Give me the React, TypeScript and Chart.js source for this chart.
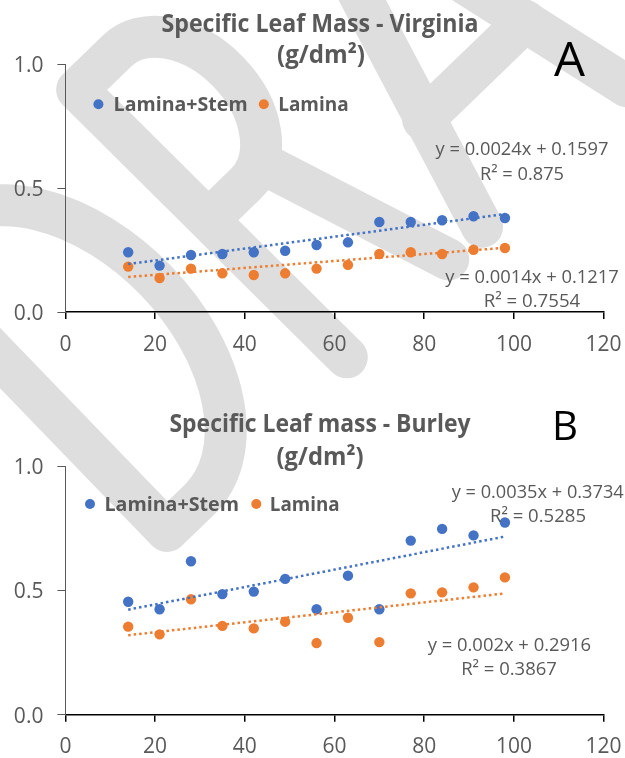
import { useEffect, useRef } from 'react';
import { Chart, registerables } from 'chart.js';

Chart.register(...registerables);

// ---------- data ----------
const days = [14, 21, 28, 35, 42, 49, 56, 63, 70, 77, 84, 91, 98];

const virginiaLaminaStem = [0.241, 0.187, 0.23, 0.234, 0.241, 0.247, 0.27, 0.281, 0.363, 0.363, 0.37, 0.386, 0.379];
const virginiaLamina = [0.183, 0.137, 0.175, 0.156, 0.149, 0.156, 0.175, 0.19, 0.234, 0.241, 0.234, 0.251, 0.258];

const burleyLaminaStem = [0.454, 0.424, 0.617, 0.485, 0.495, 0.546, 0.424, 0.559, 0.424, 0.7, 0.747, 0.721, 0.773];
const burleyLamina = [0.354, 0.323, 0.464, 0.357, 0.347, 0.374, 0.288, 0.39, 0.292, 0.488, 0.492, 0.512, 0.552];

// trendline [slope, intercept, R²]
const virginiaTrendLaminaStem = [0.0024, 0.1597, 0.875];
const virginiaTrendLamina = [0.0014, 0.1217, 0.7554];
const burleyTrendLaminaStem = [0.0035, 0.3734, 0.5285];
const burleyTrendLamina = [0.002, 0.2916, 0.3867];

const seriesNames = ['Lamina+Stem', 'Lamina'];
const xAxisRange = [0, 120, 20];
const yAxisRange = [0, 1, 0.5];

// ---------- styles ----------
const BLUE = '#4472C4';
const ORANGE = '#ED7D31';
const GRAY_TEXT = '#595959';
const FONT = "'Open Sans'";
const W = 625;
const H = 379;

// [x, baseline, target width, font size]
type TextBox = [number, number, number, number];

type Layout = {
  offset: number;
  area: { left: number; right: number; top: number; bottom: number };
  title1: TextBox;
  title2: TextBox;
  letter: TextBox;
  legendY: number;
  dotLS: number;
  textLS: TextBox;
  dotL: number;
  textL: TextBox;
  eqLS: TextBox;
  r2LS: TextBox;
  eqL: TextBox;
  r2L: TextBox;
};

const panels = [
  {
    title: ['Specific Leaf Mass - Virginia', '(g/dm²)'],
    letter: 'A',
    laminaStem: virginiaLaminaStem,
    lamina: virginiaLamina,
    trendLS: virginiaTrendLaminaStem,
    trendL: virginiaTrendLamina,
    layout: {
      offset: 0,
      area: { left: 65.4, right: 603.6, top: 64, bottom: 312 },
      title1: [320, 32, 317, 24.5],
      title2: [321, 63, 88, 24.5],
      letter: [569.5, 76, 31, 47.6],
      legendY: 104.3,
      dotLS: 98.4,
      textLS: [113.6, 111, 134, 19.2],
      dotL: 263.8,
      textL: [278.2, 111, 70.5, 19.2],
      eqLS: [522, 155, 173, 18.6],
      r2LS: [522, 179.5, 84, 18.6],
      eqL: [532, 283, 173.5, 18.6],
      r2L: [532, 307, 96.5, 18.6],
    } as Layout,
  },
  {
    title: ['Specific Leaf mass - Burley', '(g/dm²)'],
    letter: 'B',
    laminaStem: burleyLaminaStem,
    lamina: burleyLamina,
    trendLS: burleyTrendLaminaStem,
    trendL: burleyTrendLamina,
    layout: {
      offset: 379,
      area: { left: 65.4, right: 603.6, top: 87, bottom: 335.7 },
      title1: [320, 53, 301, 24.5],
      title2: [320, 86, 87, 24.5],
      letter: [565, 61, 26, 39.6],
      legendY: 125,
      dotLS: 90,
      textLS: [104.4, 132, 134.6, 19.2],
      dotL: 256.3,
      textL: [269.8, 132, 69.8, 19.2],
      eqLS: [537.7, 118.5, 172, 18.6],
      r2LS: [538, 142.7, 96, 18.6],
      eqL: [509.4, 271.7, 163.4, 18.6],
      r2L: [509, 296, 95.7, 18.6],
    } as Layout,
  },
];

// ---------- helpers ----------
function drawText(
  ctx: CanvasRenderingContext2D,
  text: string,
  box: TextBox,
  weight: string,
  color: string,
  align: CanvasTextAlign
) {
  const [x, baseline, targetW, size] = box;
  ctx.save();
  ctx.font = `${weight} ${size}px ${FONT}`;
  const w = ctx.measureText(text).width;
  const sx = targetW / w;
  ctx.translate(x, baseline);
  ctx.scale(sx, 1);
  ctx.fillStyle = color;
  ctx.textAlign = align;
  ctx.textBaseline = 'alphabetic';
  ctx.fillText(text, 0, 0);
  ctx.restore();
}

function drawWatermark(ctx: CanvasRenderingContext2D, offset: number) {
  ctx.save();
  ctx.translate(0, -offset);
  ctx.translate(167, 531);
  ctx.rotate((-44 * Math.PI) / 180);
  ctx.strokeStyle = '#dedede';
  ctx.lineWidth = 42;
  ctx.lineCap = 'round';
  ctx.lineJoin = 'round';
  // D
  ctx.beginPath();
  ctx.moveTo(45, 0);
  ctx.lineTo(0, 0);
  ctx.lineTo(0, -376);
  ctx.lineTo(45, -376);
  ctx.ellipse(45, -188, 121, 188, 0, -Math.PI / 2, Math.PI / 2);
  ctx.stroke();
  // R
  ctx.beginPath();
  ctx.moveTo(250, 0);
  ctx.lineTo(242, -380);
  ctx.lineTo(298, -380);
  ctx.ellipse(298, -287.5, 65, 92.5, 0, -Math.PI / 2, Math.PI / 2);
  ctx.lineTo(246, -195);
  ctx.stroke();
  ctx.beginPath();
  ctx.moveTo(325, -195);
  ctx.lineTo(391, 0);
  ctx.stroke();
  // A
  ctx.beginPath();
  ctx.moveTo(438, 0);
  ctx.lineTo(548, -380);
  ctx.lineTo(640, 0);
  ctx.stroke();
  ctx.beginPath();
  ctx.moveTo(470, -118);
  ctx.lineTo(612, -118);
  ctx.stroke();
  ctx.restore();
}

function trendPoints(t: number[]) {
  const x0 = days[0];
  const x1 = days[days.length - 1];
  return [
    { x: x0, y: t[0] * x0 + t[1] },
    { x: x1, y: t[0] * x1 + t[1] },
  ];
}

function Panel({ panel }: { panel: (typeof panels)[number] }) {
  const ref = useRef<HTMLCanvasElement>(null);

  useEffect(() => {
    const L = panel.layout;
    const overlay = {
      id: 'overlay',
      beforeDraw(chart: Chart) {
        drawWatermark(chart.ctx, L.offset);
      },
      afterDraw(chart: Chart) {
        const ctx = chart.ctx;
        drawText(ctx, panel.title[0], L.title1, 'bold', GRAY_TEXT, 'center');
        drawText(ctx, panel.title[1], L.title2, 'bold', GRAY_TEXT, 'center');
        drawText(ctx, panel.letter, L.letter, 'normal', '#000', 'center');
        // legend
        ctx.save();
        ctx.fillStyle = BLUE;
        ctx.beginPath();
        ctx.arc(L.dotLS, L.legendY, 5, 0, Math.PI * 2);
        ctx.fill();
        ctx.fillStyle = ORANGE;
        ctx.beginPath();
        ctx.arc(L.dotL, L.legendY, 5, 0, Math.PI * 2);
        ctx.fill();
        ctx.restore();
        drawText(ctx, seriesNames[0], L.textLS, 'bold', GRAY_TEXT, 'left');
        drawText(ctx, seriesNames[1], L.textL, 'bold', GRAY_TEXT, 'left');
        // equations
        const tLS = panel.trendLS;
        const tL = panel.trendL;
        drawText(ctx, `y = ${tLS[0]}x + ${tLS[1]}`, L.eqLS, 'normal', GRAY_TEXT, 'center');
        drawText(ctx, `R² = ${tLS[2]}`, L.r2LS, 'normal', GRAY_TEXT, 'center');
        drawText(ctx, `y = ${tL[0]}x + ${tL[1]}`, L.eqL, 'normal', GRAY_TEXT, 'center');
        drawText(ctx, `R² = ${tL[2]}`, L.r2L, 'normal', GRAY_TEXT, 'center');
      },
    };

    const chart = new Chart(ref.current!, {
      type: 'scatter',
      data: {
        datasets: [
          {
            type: 'line',
            label: 'trend LS',
            data: trendPoints(panel.trendLS),
            borderColor: BLUE,
            borderWidth: 2.5,
            borderDash: [2.5, 3],
            pointRadius: 0,
            showLine: true,
            fill: false,
            order: 0,
          },
          {
            type: 'line',
            label: 'trend L',
            data: trendPoints(panel.trendL),
            borderColor: ORANGE,
            borderWidth: 2.5,
            borderDash: [2.5, 3],
            pointRadius: 0,
            showLine: true,
            fill: false,
            order: 0,
          },
          {
            label: seriesNames[0],
            data: days.map((x, i) => ({ x, y: panel.laminaStem[i] })),
            backgroundColor: BLUE,
            borderColor: BLUE,
            pointRadius: 5.2,
            pointBorderWidth: 0,
            order: 2,
          },
          {
            label: seriesNames[1],
            data: days.map((x, i) => ({ x, y: panel.lamina[i] })),
            backgroundColor: ORANGE,
            borderColor: ORANGE,
            pointRadius: 5.2,
            pointBorderWidth: 0,
            order: 1,
          },
        ],
      } as any,
      options: {
        animation: false,
        responsive: false,
        events: [],
        layout: { padding: { top: L.area.top, right: W - L.area.right, left: 0, bottom: 0 } },
        plugins: { legend: { display: false }, title: { display: false }, tooltip: { enabled: false } },
        scales: {
          x: {
            type: 'linear',
            min: xAxisRange[0],
            max: xAxisRange[1],
            afterFit: (s: any) => {
              s.height = H - L.area.bottom;
              s.paddingLeft = 0;
              s.paddingRight = 0;
            },
            ticks: {
              stepSize: xAxisRange[2],
              color: GRAY_TEXT,
              font: { family: 'Open Sans', size: 21 },
              padding: 13,
              maxRotation: 0,
            },
            grid: { drawOnChartArea: false, drawTicks: true, tickLength: 7, color: '#000', lineWidth: 1.5 },
            border: { display: true, color: '#000', width: 1.5 },
          },
          y: {
            type: 'linear',
            min: yAxisRange[0],
            max: yAxisRange[1],
            afterFit: (s: any) => {
              s.width = L.area.left;
            },
            ticks: {
              stepSize: yAxisRange[2],
              color: GRAY_TEXT,
              font: { family: 'Open Sans', size: 21 },
              padding: 14,
              labelOffset: 2,
              callback: (v: any) => Number(v).toFixed(1),
            },
            grid: { drawOnChartArea: false, drawTicks: true, tickLength: 8, color: '#595959', lineWidth: 1 },
            border: { display: true, color: '#595959', width: 1 },
          },
        },
      } as any,
      plugins: [overlay as any],
    });
    return () => chart.destroy();
  }, [panel]);

  return <canvas ref={ref} width={W} height={H} style={{ display: 'block', width: W, height: H }} />;
}

export default function App() {
  useEffect(() => {
    document.body.style.margin = '0';
  }, []);
  return (
    <div style={{ width: W, background: '#fff' }}>
      {panels.map((p) => (
        <Panel key={p.letter} panel={p} />
      ))}
    </div>
  );
}
